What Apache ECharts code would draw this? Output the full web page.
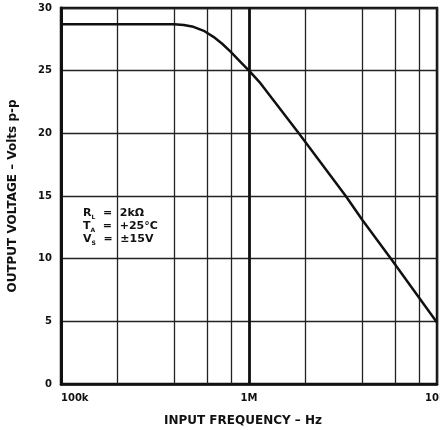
<!DOCTYPE html>
<html><head><meta charset="utf-8">
<script src="https://cdn.jsdelivr.net/npm/echarts@6/dist/echarts.min.js"></script>
<style>html,body{margin:0;padding:0;background:#fff}#c{width:440px;height:430px}</style>
</head><body><div id="c"></div>
<script>
const freqHz = [1e5, 2e5, 4e5, 4.5e5, 5.06e5, 5.8e5, 6.47e5, 7.2e5, 8e5, 9e5, 1e6, 1.15e6, 1.84e6, 3.27e6, 4e6, 5.69e6, 1e7];
const voltsPP = [28.7, 28.7, 28.7, 28.65, 28.5, 28.15, 27.7, 27.15, 26.5, 25.7, 25.0, 24.0, 20.0, 15.0, 13.1, 10.0, 4.9];
const gridFreqs = [2e5, 4e5, 6e5, 8e5, 2e6, 4e6, 6e6, 8e6];
const xTickLabels = {100000: '100k', 1000000: '1M', 10000000: '10M'};
const yTicks = [0, 5, 10, 15, 20, 25, 30];

const font = 'DejaVu Sans, Liberation Sans, sans-serif';
const chart = echarts.init(document.getElementById('c'), null, {renderer: 'canvas'});
chart.setOption({
  animation: false,
  backgroundColor: '#fff',
  grid: {left: 61, right: 3, top: 8, bottom: 46, outerBoundsMode: 'none', containLabel: false,
    show: true, borderColor: '#111', borderWidth: 2.5, backgroundColor: 'transparent'},
  xAxis: {
    type: 'log', logBase: 10, min: 1e5, max: 1e7,
    name: 'INPUT FREQUENCY \u2013 Hz', nameLocation: 'middle', nameGap: 31,
    nameTextStyle: {fontFamily: font, fontWeight: 'bold', fontSize: 12, color: '#111', padding: [0, 12, 0, 0]},
    axisLine: {show: true, lineStyle: {color: '#111', width: 2.5}},
    axisTick: {show: false},
    splitLine: {show: true, lineStyle: {color: '#222', width: 1.3}},
    axisLabel: {
      fontFamily: font, fontWeight: 'bold', fontSize: 10, color: '#111', margin: 9,
      alignMinLabel: 'left', hideOverlap: false,
      formatter: v => xTickLabels[Math.round(v)] || ''
    }
  },
  yAxis: {
    type: 'value', min: 0, max: 30, interval: 5,
    name: 'OUTPUT VOLTAGE \u2013 Volts p-p', nameLocation: 'middle', nameGap: 42, nameRotate: 90,
    nameTextStyle: {fontFamily: font, fontWeight: 'bold', fontSize: 12, color: '#111'},
    axisLine: {show: true, lineStyle: {color: '#111', width: 3}},
    axisTick: {show: false},
    splitLine: {show: true, lineStyle: {color: '#222', width: 1.3}},
    axisLabel: {fontFamily: font, fontWeight: 'bold', fontSize: 10, color: '#111', margin: 9,
      formatter: v => yTicks.includes(v) ? String(v) : ''}
  },
  series: [{
    type: 'line',
    data: freqHz.map((f, i) => [f, voltsPP[i]]),
    smooth: false,
    showSymbol: false,
    lineStyle: {color: '#111', width: 2.5, join: 'round'},
    z: 5,
    markLine: {
      silent: true, symbol: 'none', label: {show: false},
      lineStyle: {color: '#222', width: 1.3, type: 'solid'},
      data: gridFreqs.map(f => ({xAxis: f}))
        .concat([{xAxis: 1e6, lineStyle: {color: '#111', width: 2.8, type: 'solid'}}])
    }
  }],
  graphic: [{
    type: 'text', left: 83, top: 207,
    style: {
      text: 'R{s|L}  =  2k\u03a9\nT{s|A}  =  +25\u00b0C\nV{s|S}  =  \u00b115V',
      fontFamily: font, fontWeight: 'bold', fontSize: 11, fill: '#111', lineHeight: 13,
      rich: {s: {fontSize: 6, fontFamily: font, fontWeight: 'bold', fill: '#111', verticalAlign: 'bottom', padding: [5, 0, 0, 0]}}
    }
  }]
});
</script></body></html>
